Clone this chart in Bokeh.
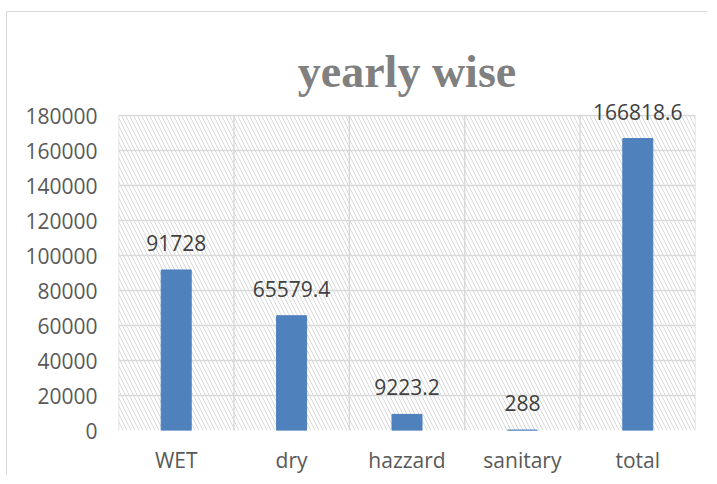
from bokeh.plotting import figure
from bokeh.models import (ColumnDataSource, Range1d, FixedTicker, Label,
                          BoxAnnotation, BasicTickFormatter)
from bokeh.embed import file_html
from bokeh.resources import INLINE

# ---- data ----
categories = ["WET", "dry", "hazzard", "sanitary", "total"]
values = [91728, 65579.4, 9223.2, 288, 166818.6]
y_ticks = [0, 20000, 40000, 60000, 80000, 100000, 120000, 140000, 160000, 180000]
title_text = "yearly wise"

xs = [i + 0.5 for i in range(len(categories))]
bounds = list(range(len(categories) + 1))
labels = [str(v) for v in values]
src = ColumnDataSource(dict(x=xs, top=values, label=labels))

y_top = y_ticks[-1]
# extra headroom above the 180000 line so the title and labels are not clipped
view_top = y_top * 385 / 315

p = figure(width=701, height=464, output_backend="svg", toolbar_location=None,
           x_range=Range1d(0, len(categories)), y_range=Range1d(y_ticks[0], view_top),
           min_border_left=111, min_border_right=13, min_border_top=33,
           min_border_bottom=46)
p.styles = {"border-left": "1px solid #d9d9d9", "border-top": "1px solid #d9d9d9",
            "margin-left": "6px", "margin-top": "11px"}
p.outline_line_color = None

# hatched plot-area background
bg = BoxAnnotation(bottom=y_ticks[0], top=y_top, fill_alpha=0, line_alpha=0,
                   hatch_pattern="\\", hatch_color="#d9d9d9",
                   hatch_scale=8, hatch_weight=1, level="image")
p.add_layout(bg)

# vertical separators between categories
p.segment(x0=bounds, y0=[y_ticks[0]] * len(bounds), x1=bounds, y1=[y_top] * len(bounds),
          line_color="#d9d9d9", line_width=1.5, level="underlay")

p.vbar(x="x", top="top", width=0.26, source=src, fill_color="#4f81bd",
       line_color="#4f81bd")

for x, v, t in zip(xs, values, labels):
    p.add_layout(Label(x=x, y=v, text=t, text_align="center",
                       text_baseline="alphabetic", y_offset=27, text_font="Open Sans",
                       text_font_size="21px", text_color="#404040"))

# title (as a label centred over the plot area)
p.add_layout(Label(x=len(categories) / 2, y=y_top, text=title_text,
                   text_align="center", text_baseline="alphabetic", y_offset=44,
                   text_font="Liberation Serif", text_font_style="bold",
                   text_font_size="46px", text_color="#808080"))

# grids
p.xgrid.grid_line_color = None
p.ygrid.ticker = FixedTicker(ticks=y_ticks)
p.ygrid.grid_line_color = "#d9d9d9"
p.ygrid.grid_line_width = 1.5

# axes
p.xaxis.ticker = FixedTicker(ticks=xs)
p.xaxis.major_label_overrides = {x: c for x, c in zip(xs, categories)}
p.yaxis.ticker = FixedTicker(ticks=y_ticks)
p.yaxis.formatter = BasicTickFormatter(use_scientific=False)
for ax in (p.xaxis, p.yaxis):
    ax.axis_line_color = None
    ax.major_tick_line_color = None
    ax.minor_tick_line_color = None
    ax.major_label_text_font = "Open Sans"
    ax.major_label_text_font_size = "21px"
    ax.major_label_text_color = "#595959"
p.xaxis.major_label_standoff = 9
p.yaxis.major_label_standoff = 15

open("out.html", "w").write(file_html(p, INLINE))
